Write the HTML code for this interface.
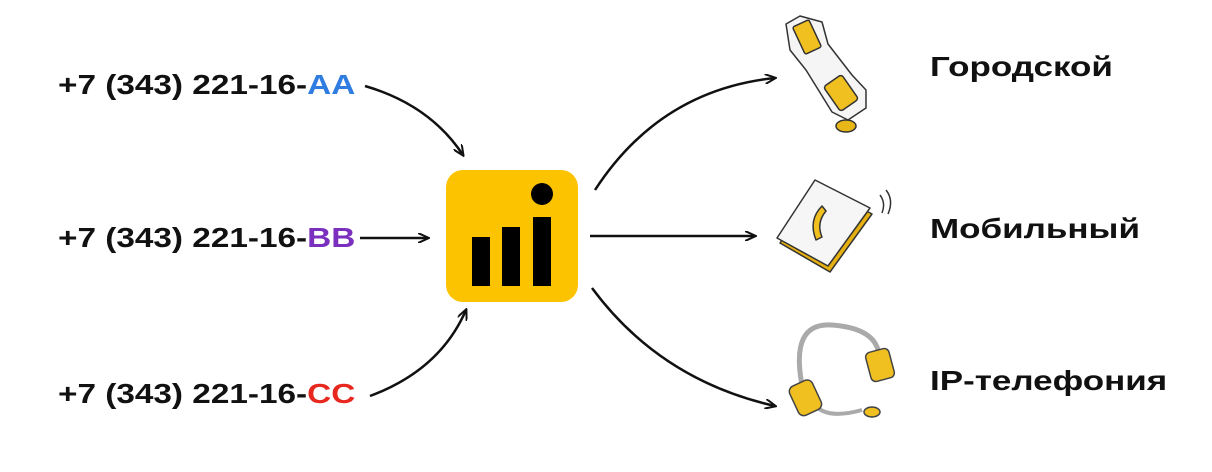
<!DOCTYPE html>
<html><head><meta charset="utf-8"><style>
body{margin:0;width:1212px;height:472px;background:#fff;overflow:hidden;position:relative;font-family:"Liberation Sans","DejaVu Sans",sans-serif;font-weight:bold}
.t{position:absolute;font-size:28px;color:#111;white-space:nowrap;line-height:1;transform-origin:0 0}
.l{transform:scaleX(1.19)}
.r{transform:scaleX(1.25)}
</style></head><body>
<div class="t l" style="left:58px;top:71px">+7 (343) 221-16-<span style="color:#2f7de1">AA</span></div>
<div class="t l" style="left:58px;top:224px">+7 (343) 221-16-<span style="color:#7b2fbe">BB</span></div>
<div class="t l" style="left:58px;top:380px">+7 (343) 221-16-<span style="color:#e8281f">CC</span></div>
<div class="t r" style="left:930px;top:53px">Городской</div>
<div class="t r" style="left:930px;top:215px">Мобильный</div>
<div class="t r" style="left:930px;top:367px">IP-телефония</div>
<svg width="1212" height="472" style="position:absolute;left:0;top:0">
<defs><marker id="a" markerWidth="12" markerHeight="10" refX="10" refY="5" orient="auto" markerUnits="userSpaceOnUse"><path d="M0,0 L11,5 L0,10" fill="none" stroke="#111" stroke-width="2"/></marker></defs>
<g fill="none" stroke="#111" stroke-width="2.5" marker-end="url(#a)">
<path d="M365,86 Q430,105 463,155"/>
<path d="M360,238 L428,238"/>
<path d="M370,396 Q440,370 466,310"/>
<path d="M595,190 Q660,90 775,78"/>
<path d="M590,236 L755,236"/>
<path d="M592,288 Q660,380 775,406"/>
</g>
<rect x="446" y="170" width="132" height="132" rx="17" fill="#fcc400"/>
<rect x="472" y="237" width="18" height="49" fill="#000"/>
<rect x="502" y="227" width="18" height="59" fill="#000"/>
<rect x="533" y="217" width="18" height="69" fill="#000"/>
<circle cx="542" cy="194" r="11" fill="#000"/>
<!-- handset -->
<g stroke="#333" stroke-width="1.5" stroke-linejoin="round">
<path d="M786,24 L800,16 L822,22 L828,44 L852,75 L866,90 L866,108 L848,120 L832,112 L806,70 L790,50 Z" fill="#f5f5f5"/>
<rect x="798" y="22" width="18" height="30" rx="2" fill="#f0c020" transform="rotate(-25 807 37)"/>
<rect x="830" y="78" width="22" height="30" rx="3" fill="#f0c020" transform="rotate(-35 841 93)"/>
<ellipse cx="846" cy="126" rx="10" ry="6" fill="#e8b818"/>
</g>
<!-- phone -->
<g stroke="#333" stroke-width="1.5" stroke-linejoin="round">
<path d="M780,243 L818,185 L872,214 L830,272 Z" fill="#e6b010"/>
<path d="M777,238 L815,180 L870,208 L828,266 Z" fill="#f6f6f6"/>
<path d="M822,206 q-14,14 -6,34 l6,-3 q-6,-14 4,-26 z" fill="#f0c020"/>
<path d="M880,195 q6,8 2,18 M886,190 q8,10 2,24" fill="none"/>
</g>
<!-- headset -->
<g stroke="#444" stroke-width="1.5">
<path d="M802,385 Q790,322 832,325 Q872,328 878,350" fill="none" stroke="#aaa" stroke-width="5"/>
<path d="M814,404 Q826,420 862,410" fill="none" stroke="#aaa" stroke-width="4"/>
<rect x="793" y="382" width="25" height="32" rx="6" fill="#f0c020" transform="rotate(-25 805 398)"/>
<rect x="868" y="350" width="24" height="30" rx="5" fill="#f0c020" transform="rotate(-15 880 365)"/>
<ellipse cx="872" cy="412" rx="8" ry="5" fill="#f0c020"/>
</g>
</svg>
</body></html>
